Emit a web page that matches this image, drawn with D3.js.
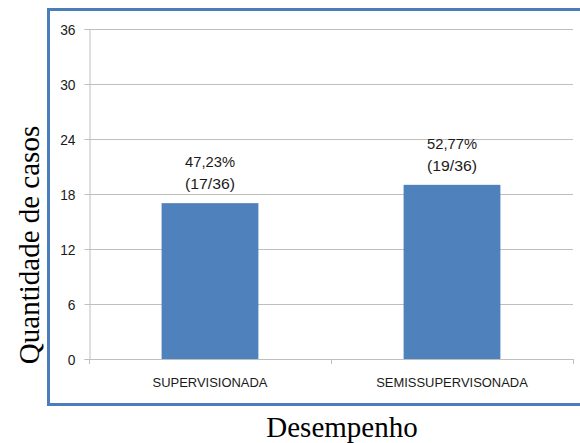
<!DOCTYPE html>
<html>
<head>
<meta charset="utf-8">
<script src="https://cdn.jsdelivr.net/npm/d3@7"></script>
<style>
  html, body { margin: 0; padding: 0; background: #fff; }
  svg { display: block; }
</style>
</head>
<body>
<svg id="chart" width="580" height="443"></svg>
<script>
// Desempenho por modalidade
const categories = ["SUPERVISIONADA", "SEMISSUPERVISONADA"];
const values = [17, 19];
const percentLabels = ["47,23%", "52,77%"];
const fractionLabels = ["(17/36)", "(19/36)"];
const yTicks = [0, 6, 12, 18, 24, 30, 36];

const svg = d3.select("#chart");
const tickFont = "'Liberation Sans', Arial, sans-serif";
const titleFont = "'Liberation Serif', 'DejaVu Serif', serif";

// chart frame
svg.append("rect")
  .attr("x", 48.5).attr("y", 9.5)
  .attr("width", 560).attr("height", 395)
  .attr("fill", "#fff")
  .attr("stroke", "#4a7ebb").attr("stroke-width", 3);

const plot = { left: 89, right: 573, top: 29, bottom: 359 };

const x = d3.scaleBand().domain(categories)
  .range([plot.left, plot.right]).paddingInner(0.6).paddingOuter(0.3);
const xCat = d3.scaleBand().domain(categories).range([plot.left, plot.right]);
const y = d3.scaleLinear().domain([0, 36]).range([plot.bottom, plot.top]);

// gridlines
svg.append("g").selectAll("line").data(yTicks).join("line")
  .attr("x1", plot.left).attr("x2", plot.right)
  .attr("y1", d => Math.round(y(d)) + 0.5).attr("y2", d => Math.round(y(d)) + 0.5)
  .attr("stroke", "#bfbfbf").attr("stroke-width", 1);

// y axis
const yAxis = svg.append("g")
  .attr("transform", `translate(${plot.left + 0.5},0)`)
  .call(d3.axisLeft(y).tickValues(yTicks).tickSize(5).tickPadding(6));
yAxis.select(".domain").attr("stroke", "#bfbfbf");
yAxis.selectAll(".tick line").attr("stroke", "#bfbfbf");
yAxis.selectAll("text").attr("font-family", tickFont).attr("font-size", 15)
  .attr("fill", "#1a1a1a").attr("x", -14).attr("dy", "0.34em")
  .attr("textLength", function () { return this.getComputedTextLength() * 0.92; })
  .attr("lengthAdjust", "spacingAndGlyphs");

// bars
svg.append("g").selectAll("rect").data(values).join("rect")
  .attr("x", (d, i) => x(categories[i]))
  .attr("width", x.bandwidth())
  .attr("y", d => y(d))
  .attr("height", d => y(0) - y(d))
  .attr("fill", "#4f81bd");

// x axis
const xAxis = svg.append("g")
  .attr("transform", `translate(0,${Math.round(y(0)) + 0.5})`)
  .call(d3.axisBottom(xCat).tickSize(0).tickPadding(18));
xAxis.select(".domain").attr("stroke", "#bfbfbf").attr("d", `M${plot.left},0H${plot.right}`);
xAxis.selectAll("text").attr("font-family", tickFont).attr("font-size", 13.5)
  .attr("fill", "#1a1a1a").attr("textLength", function () { return this.getComputedTextLength() * 0.96; })
  .attr("lengthAdjust", "spacingAndGlyphs");
// category separators
svg.append("g").selectAll("line")
  .data([plot.left, ...categories.map(c => xCat(c) + xCat.bandwidth())])
  .join("line")
  .attr("x1", d => Math.round(d) + 0.5).attr("x2", d => Math.round(d) + 0.5)
  .attr("y1", y(0)).attr("y2", y(0) + 5)
  .attr("stroke", "#bfbfbf");

// value labels
const labels = svg.append("g").attr("font-family", tickFont).attr("font-size", 15)
  .attr("text-anchor", "middle").attr("fill", "#1a1a1a");
values.forEach((v, i) => {
  const cx = x(categories[i]) + x.bandwidth() / 2;
  labels.append("text").attr("x", cx).attr("y", y(v) - 36).text(percentLabels[i])
    .attr("textLength", 50).attr("lengthAdjust", "spacingAndGlyphs");
  labels.append("text").attr("x", cx).attr("y", y(v) - 14).text(fractionLabels[i])
    .attr("textLength", 50).attr("lengthAdjust", "spacingAndGlyphs");
});

// axis titles
svg.append("text")
  .attr("transform", `translate(39,245) rotate(-90)`)
  .attr("text-anchor", "middle")
  .attr("font-family", titleFont).attr("font-size", 29)
  .text("Quantidade de casos");
svg.append("text")
  .attr("x", 342).attr("y", 437)
  .attr("text-anchor", "middle")
  .attr("font-family", titleFont).attr("font-size", 29)
  .text("Desempenho");
</script>
</body>
</html>
